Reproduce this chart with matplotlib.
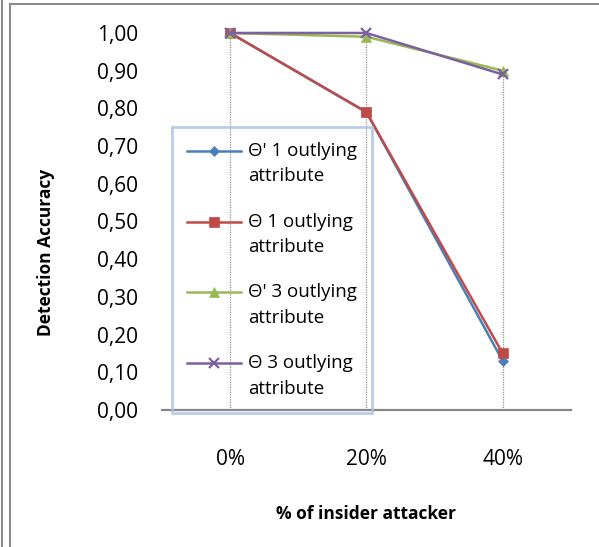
import matplotlib.pyplot as plt
from matplotlib.lines import Line2D
from matplotlib.legend_handler import HandlerLine2D
import numpy as np

categories = ['0%', '20%', '40%']
theta_p1 = [1.00, 0.79, 0.13]
theta_1 = [1.00, 0.79, 0.15]
theta_p3 = [1.00, 0.99, 0.90]
theta_3 = [1.00, 1.00, 0.89]
labels = ["\u0398' 1 outlying\nattribute", "\u0398 1 outlying\nattribute",
          "\u0398' 3 outlying\nattribute", "\u0398 3 outlying\nattribute"]


class TopLineHandler(HandlerLine2D):
    # put the legend key next to the first text line, not the middle
    def __init__(self, shift, **kw):
        super().__init__(**kw)
        self.shift = shift

    def create_artists(self, legend, orig_handle, xdescent, ydescent,
                       width, height, fontsize, trans):
        arts = super().create_artists(legend, orig_handle, xdescent, ydescent,
                                      width, height, fontsize, trans)
        for a in arts:
            a.set_ydata(np.asarray(a.get_ydata()) + self.shift)
        return arts


plt.rcParams['font.family'] = ['Open Sans', 'DejaVu Sans']

fig = plt.figure(figsize=(5.99, 5.47), dpi=100)
ax = fig.add_axes([0.2705, 0.2505, 0.6825, 0.6892])

x = np.arange(len(categories)) + 0.5
series = [
    (theta_p1, '#4A7EBB', 'D', 5),
    (theta_1, '#BE4B48', 's', 7),
    (theta_p3, '#98B954', '^', 6.5),
    (theta_3, '#7D60A0', 'x', 7),
]

# drop lines from the highest point down to the axis
tops = np.max([s[0] for s in series], axis=0)
ax.vlines(x, 0, tops, colors='#909090', linestyles=(0, (1, 1)), linewidth=0.9, zorder=1)

for (vals, col, mk, ms), lab in zip(series, labels):
    ax.plot(x, vals, color=col, marker=mk, markersize=ms, linewidth=1.8,
            markeredgewidth=1.6 if mk == 'x' else 0.5, markeredgecolor=col,
            label=lab, clip_on=False, zorder=3)

ax.set_xlim(0, 3)
ax.set_ylim(0, 1.0)
ax.set_yticks(np.arange(0, 1.01, 0.1))
ax.set_yticklabels([f'{v:.2f}'.replace('.', ',') for v in np.arange(0, 1.01, 0.1)])
ax.set_xticks(x)
ax.set_xticklabels(categories)
ax.tick_params(axis='y', length=0, pad=17, labelsize=15)
ax.tick_params(axis='x', length=0, pad=28, labelsize=15)

for side in ['top', 'right', 'left']:
    ax.spines[side].set_visible(False)
ax.spines['bottom'].set_color('#868686')
ax.spines['bottom'].set_linewidth(1.6)

ax.set_ylabel('Detection Accuracy', fontsize=12.5, fontweight='bold')
ax.yaxis.set_label_coords(-0.262, 0.419)
ax.set_xlabel('% of insider attacker', fontsize=12.5, fontweight='bold', labelpad=25)

leg = ax.legend(loc='lower left', bbox_to_anchor=(0.0244, -0.008), fontsize=13.5,
                frameon=True, fancybox=False, handlelength=2.9, handletextpad=0.35,
                labelspacing=1.45, borderpad=0.8, borderaxespad=0,
                handler_map={Line2D: TopLineHandler(shift=9.5)})
for t in leg.get_texts():
    t.set_linespacing(1.55)
leg.get_frame().set_facecolor('none')
leg.get_frame().set_edgecolor('#A9C0E3')
leg.get_frame().set_linewidth(2)

# outer frame lines
fig.add_artist(Line2D([0.003, 0.003], [0, 1], color='#8c8c8c', linewidth=1.5))
fig.add_artist(Line2D([0.016, 0.016], [0, 0.992], color='#8c8c8c', linewidth=1.5))
fig.add_artist(Line2D([0.016, 1], [0.992, 0.992], color='#8c8c8c', linewidth=1.5))

fig.savefig('out.png', dpi=100)
